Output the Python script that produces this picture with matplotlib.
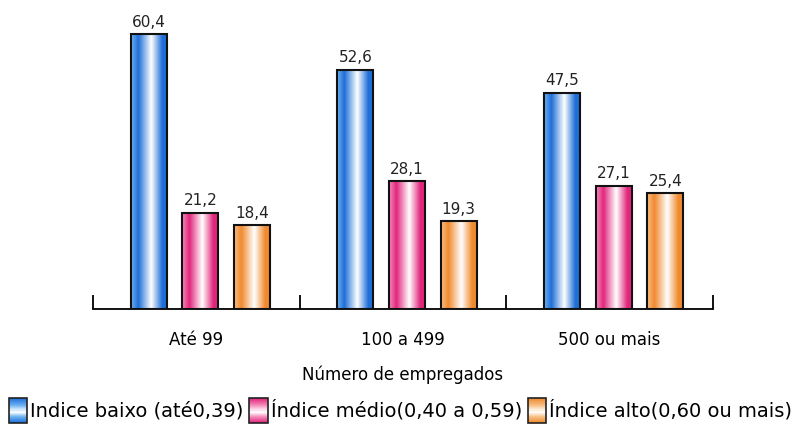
import numpy as np
import matplotlib
matplotlib.use("Agg")
import matplotlib.pyplot as plt
from matplotlib.colors import LinearSegmentedColormap
from matplotlib.patches import Rectangle
from matplotlib.legend_handler import HandlerBase

categories = ["Até 99", "100 a 499", "500 ou mais"]
series_names = ["Indice baixo (até0,39)", "Índice médio(0,40 a 0,59)", "Índice alto(0,60 ou mais)"]
baixo = [60.4, 52.6, 47.5]
medio = [21.2, 28.1, 27.1]
alto = [18.4, 19.3, 25.4]
value_labels = [["60,4", "52,6", "47,5"], ["21,2", "28,1", "27,1"], ["18,4", "19,3", "25,4"]]

colors = [("#1f6fd8", "#6fb2f2"), ("#e2267c", "#f48ebc"), ("#f08a2e", "#f8bf86")]

def make_cmap(dark, mid):
    return LinearSegmentedColormap.from_list(
        "g", [(0, mid), (0.2, dark), (0.55, "#ffffff"), (0.85, dark), (1, dark)])

def make_vcmap(dark, mid):
    return LinearSegmentedColormap.from_list(
        "v", [(0, dark), (0.3, mid), (0.55, "#ffffff"), (0.75, mid), (1, dark)])


class GradientHandler(HandlerBase):
    def __init__(self, cmap):
        super().__init__()
        self.cmap = cmap

    def create_artists(self, legend, orig_handle, xdescent, ydescent,
                       width, height, fontsize, trans):
        arts = []
        n = 24
        for i in range(n):
            r = Rectangle((-xdescent, -ydescent + height * i / n), width, height / n + 0.3,
                          facecolor=self.cmap(1 - i / (n - 1)), edgecolor="none", transform=trans)
            arts.append(r)
        arts.append(Rectangle((-xdescent, -ydescent), width, height, facecolor="none",
                              edgecolor="#222222", lw=1.2, transform=trans))
        return arts


plt.rcParams['font.family'] = ['DejaVu Sans']
fig = plt.figure(figsize=(8.01, 4.38), dpi=100)
ax = fig.add_axes([0.116, 0.2945, 0.774, 0.675])

x = np.arange(len(categories))
width = 0.175
offsets = [-0.23, 0.02, 0.27]
data = [baixo, medio, alto]
grad = np.linspace(0, 1, 256).reshape(1, -1)

handles = []
for s, vals in enumerate(data):
    cmap = make_cmap(*colors[s])
    bars = ax.bar(x + offsets[s], vals, width, facecolor="none", edgecolor="#111111",
                  lw=1.5, zorder=3)
    for b, lab in zip(bars, value_labels[s]):
        x0 = b.get_x()
        h = b.get_height()
        ax.imshow(grad, cmap=cmap, extent=[x0, x0 + width, 0, h], aspect="auto", zorder=2)
        ax.text(x0 + width / 2, h + 1.0, lab, ha="center", va="bottom", fontsize=11, color="#222222")
    handles.append(bars)

ax.set_xlim(-0.5, 2.5)
ax.set_ylim(0, 65)
for sp in ["left", "right", "top"]:
    ax.spines[sp].set_visible(False)
ax.spines["bottom"].set_linewidth(1.3)
ax.set_yticks([])
ax.set_xticks([-0.5, 0.5, 1.5, 2.5])
ax.set_xticklabels([])
ax.tick_params(axis="x", which="major", direction="in", length=10, width=1.3)
ax.set_xticks(x, minor=True)
ax.set_xticklabels(categories, minor=True, fontsize=12)
ax.tick_params(axis="x", which="minor", length=0, pad=16)
ax.set_xlabel("Número de empregados", fontsize=12, labelpad=12)

handler_map = {handles[s]: GradientHandler(make_vcmap(*colors[s])) for s in range(3)}
fig.legend(handles, series_names, handler_map=handler_map, loc="lower center",
           bbox_to_anchor=(0.5, -0.005), ncol=3, frameon=False, fontsize=14,
           handlelength=0.95, handleheight=1.55, handletextpad=0.15, columnspacing=0.3)

fig.savefig("out.png", dpi=100)
